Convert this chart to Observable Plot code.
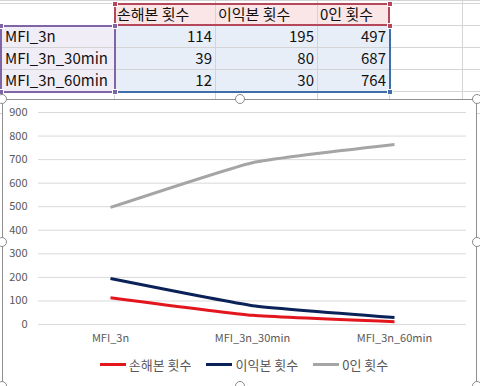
<!DOCTYPE html>
<html>
<head>
<meta charset="utf-8">
<script src="https://cdn.jsdelivr.net/npm/d3@7"></script>
<script src="https://cdn.jsdelivr.net/npm/@observablehq/plot@0.6"></script>
<style>
  html, body { margin: 0; padding: 0; background: #fff; }
  #page { position: relative; width: 480px; height: 386px; overflow: hidden; background: #fff;
          font-family: "Noto Sans CJK KR", "Noto Sans", sans-serif; }
  .abs { position: absolute; box-sizing: border-box; }
  .cell { position: absolute; font-size: 15px; color: #111; white-space: nowrap; overflow: hidden; }
  #chartbox { position: absolute; left: 2px; top: 99px; width: 475px; height: 300px; background: #fff;
              border: 1px solid #8f8f8f; box-sizing: border-box; }
  .handle { position: absolute; width: 10px; height: 10px; border-radius: 50%; background: #fff;
            border: 1px solid #8a8a8a; box-sizing: border-box; }
  .sq { position: absolute; width: 6px; height: 6px; box-sizing: border-box; border: 1px solid #fff; }
  #plot { position: absolute; left: 0; top: 100px; }
  #legend { position: absolute; left: 4px; width: 480px; top: 356px; height: 16px; display: flex;
            justify-content: center; align-items: center; gap: 15px; font-size: 13px; color: #595959; }
  .item { display: flex; align-items: center; gap: 3px; }
  .sw { width: 26px; height: 3px; }
</style>
</head>
<body>
<div id="page"></div>
<script>
// ---- data ----
const categories = ["MFI_3n", "MFI_3n_30min", "MFI_3n_60min"];
const seriesNames = ["손해본 횟수", "이익본 횟수", "0인 횟수"];
const lossCounts = [114, 39, 12];
const gainCounts = [195, 80, 30];
const zeroCounts = [497, 687, 764];
const yTicks = [0, 100, 200, 300, 400, 500, 600, 700, 800, 900];
const seriesColors = ["#e3161e", "#0b2258", "#a5a5a5"];

const seriesValues = [lossCounts, gainCounts, zeroCounts];
const page = document.getElementById("page");

// ---- spreadsheet area ----
const colX = [0, 114, 215, 317, 389, 462, 480];
const rowY = [3, 25, 47, 69, 91, 113];
function div(cls, css, text) {
  const d = document.createElement("div");
  d.className = cls;
  Object.assign(d.style, css);
  if (text !== undefined) d.textContent = text;
  page.appendChild(d);
  return d;
}
// fills
div("abs", {left: colX[1]+"px", top: rowY[0]+"px", width: (colX[4]-colX[1])+"px", height: (rowY[1]-rowY[0])+"px", background: "#fbe6e7"});
div("abs", {left: "0px", top: rowY[1]+"px", width: colX[1]+"px", height: (rowY[4]-rowY[1])+"px", background: "#f1edf6"});
div("abs", {left: colX[1]+"px", top: rowY[1]+"px", width: (colX[4]-colX[1])+"px", height: (rowY[4]-rowY[1])+"px", background: "#e8eef8"});
// gridlines
colX.slice(1, 6).forEach(x => div("abs", {left: x+"px", top: "0px", width: "1px", height: "100px", background: "#d4d4d4"}));
[0].concat(rowY).forEach(y => div("abs", {left: "0px", top: y+"px", width: "480px", height: "1px", background: "#d4d4d4"}));
// header texts
seriesNames.forEach((s, i) => div("cell", {left: (colX[i+1]+3)+"px", top: rowY[0]+"px", width: (colX[i+2]-colX[i+1]-4)+"px", height: (rowY[1]-rowY[0])+"px", lineHeight: (rowY[1]-rowY[0])+"px"}, s));
// category texts
categories.forEach((c, r) => div("cell", {left: "5px", top: rowY[r+1]+"px", width: (colX[1]-6)+"px", height: "22px", lineHeight: "22px"}, c));
// values
seriesValues.forEach((vals, i) => vals.forEach((v, r) => div("cell", {left: colX[i+1]+"px", top: rowY[r+1]+"px", width: (colX[i+2]-colX[i+1]-3)+"px", height: "22px", lineHeight: "22px", textAlign: "right"}, String(v))));
// range borders
const red = "#b5475a", purple = "#7f65a6", blue = "#3f6ea8";
div("abs", {left: colX[1]+"px", top: rowY[0]+"px", width: (colX[4]-colX[1]+1)+"px", height: (rowY[1]-rowY[0]+1)+"px", border: "2px solid " + red});
div("abs", {left: colX[1]+"px", top: rowY[4]+"px", width: (colX[4]-colX[1]+1)+"px", height: "2px", background: blue});
div("abs", {left: colX[4]+"px", top: rowY[1]+"px", width: "2px", height: (rowY[4]-rowY[1]+1)+"px", background: blue});
div("abs", {left: "0px", top: rowY[1]+"px", width: (colX[1]+2)+"px", height: (rowY[4]-rowY[1]+2)+"px", border: "2px solid " + purple});
[[colX[1], rowY[0], red], [colX[4], rowY[0], red], [colX[4], rowY[1], red],
 [0, rowY[1], purple], [colX[1], rowY[1], purple], [0, rowY[4], purple], [colX[1], rowY[4], purple],
 [colX[4], rowY[4], blue]].forEach(([x, y, c]) =>
  div("sq", {left: (x-2)+"px", top: (y-2)+"px", background: c}));

// ---- chart object ----
div("", {}).id = "chartbox";

const data = [];
seriesNames.forEach((s, i) => categories.forEach((c, j) => data.push({series: s, cat: c, value: seriesValues[i][j]})));

const chart = Plot.plot({
  width: 480,
  height: 250,
  marginLeft: 38,
  marginRight: 14,
  marginTop: 12,
  marginBottom: 26,
  style: {fontFamily: "\"Noto Sans CJK KR\", \"Noto Sans\", sans-serif", fontSize: "11px", color: "#595959", background: "transparent", overflow: "visible"},
  x: {type: "point", domain: categories, padding: 0.5, label: null},
  y: {domain: [0, 900], ticks: yTicks, label: null},
  color: {domain: seriesNames, range: seriesColors},
  marks: [
    Plot.ruleY(yTicks, {stroke: "#d9d9d9", strokeWidth: 1}),
    Plot.axisY({ticks: yTicks, tickSize: 0, tickPadding: 11, label: null}),
    Plot.axisX({tickSize: 0, tickPadding: 10, label: null}),
    Plot.line(data, {x: "cat", y: "value", z: "series", stroke: "series", strokeWidth: 3, curve: "cardinal", tension: 0.6, strokeLinecap: "butt"})
  ]
});
chart.id = "plot";
page.appendChild(chart);

// legend
const legend = document.createElement("div");
legend.id = "legend";
seriesNames.forEach((s, i) => {
  const it = document.createElement("div");
  it.className = "item";
  const sw = document.createElement("div");
  sw.className = "sw";
  sw.style.background = seriesColors[i];
  const t = document.createElement("span");
  t.textContent = s;
  it.appendChild(sw); it.appendChild(t);
  legend.appendChild(it);
});
page.appendChild(legend);

// selection handles of chart object
[[2, 99], [240, 99], [477, 99], [2, 242], [477, 242], [2, 386], [240, 386], [477, 386]].forEach(([x, y]) =>
  div("handle", {left: (x-5)+"px", top: (y-5)+"px"}));
</script>
</body>
</html>
